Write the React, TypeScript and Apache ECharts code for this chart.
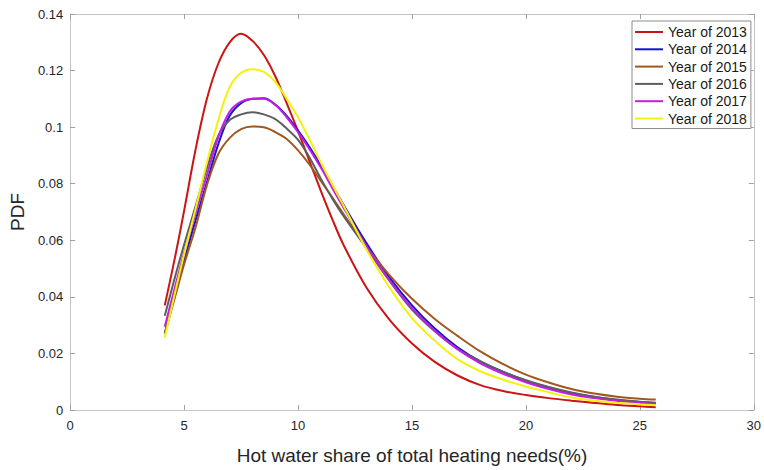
import { useEffect, useRef } from 'react';
import * as echarts from 'echarts';

// hot water share (%) sample points
const shares = [4.15, 4.6, 5, 5.5, 6, 6.5, 7, 7.5, 8, 8.5, 9, 9.5, 10, 10.5, 11, 11.5, 12, 13, 14, 15, 16, 17, 18, 19, 20, 21, 22, 23, 24, 25, 25.7];

const years = ['Year of 2013', 'Year of 2014', 'Year of 2015', 'Year of 2016', 'Year of 2017', 'Year of 2018'];

const pdf2013 = [0.037, 0.054, 0.0705, 0.092, 0.11, 0.1225, 0.13, 0.133, 0.1305, 0.1255, 0.118, 0.1085, 0.0985, 0.088, 0.0775, 0.0675, 0.0583, 0.0433, 0.032, 0.0235, 0.017, 0.0122, 0.0088, 0.0067, 0.0053, 0.0042, 0.0033, 0.0025, 0.0018, 0.0013, 0.001];
const pdf2014 = [0.0271, 0.041, 0.053, 0.067, 0.0805, 0.094, 0.104, 0.1085, 0.11, 0.1102, 0.108, 0.104, 0.0988, 0.093, 0.0865, 0.0795, 0.0725, 0.059, 0.047, 0.037, 0.0288, 0.0222, 0.0172, 0.0135, 0.0104, 0.008, 0.006, 0.0046, 0.0035, 0.0028, 0.0025];
const pdf2015 = [0.027, 0.04, 0.0515, 0.0645, 0.0795, 0.0905, 0.0962, 0.0993, 0.1002, 0.1, 0.0982, 0.0958, 0.0918, 0.0868, 0.081, 0.0752, 0.0692, 0.0578, 0.0478, 0.0393, 0.0322, 0.0262, 0.0207, 0.0162, 0.0125, 0.0097, 0.0074, 0.0058, 0.0047, 0.004, 0.0037];
const pdf2016 = [0.0333, 0.047, 0.0585, 0.072, 0.0855, 0.097, 0.1025, 0.1045, 0.1053, 0.1045, 0.1028, 0.0995, 0.0955, 0.0893, 0.0818, 0.0748, 0.0685, 0.0572, 0.0458, 0.0355, 0.0278, 0.0215, 0.0172, 0.0135, 0.0105, 0.0081, 0.0062, 0.0047, 0.0037, 0.0029, 0.0026];
const pdf2017 = [0.0294, 0.0435, 0.0555, 0.0695, 0.083, 0.0965, 0.1055, 0.109, 0.11, 0.11, 0.1078, 0.1035, 0.0982, 0.0922, 0.0857, 0.0785, 0.0715, 0.058, 0.046, 0.036, 0.028, 0.0215, 0.0165, 0.0128, 0.0098, 0.0074, 0.0055, 0.0042, 0.0032, 0.0025, 0.0022];
const pdf2018 = [0.0256, 0.0415, 0.055, 0.071, 0.0875, 0.1025, 0.1142, 0.1192, 0.1205, 0.1195, 0.116, 0.11, 0.1035, 0.0957, 0.0875, 0.0797, 0.0722, 0.0568, 0.0435, 0.0325, 0.0245, 0.018, 0.0137, 0.0107, 0.0083, 0.0063, 0.0044, 0.0033, 0.0026, 0.002, 0.0017];

const curves = [pdf2013, pdf2014, pdf2015, pdf2016, pdf2017, pdf2018];
const colors = ['#cc1414', '#1414d2', '#a0581e', '#5e5e5e', '#c41ee0', '#f2f20c'];

export default function App() {
  const chartRef = useRef<HTMLDivElement>(null);

  useEffect(() => {
    if (!chartRef.current) return;
    document.body.style.margin = '0';
    const chart = echarts.init(chartRef.current, null, { renderer: 'svg' });

    const font = 'Liberation Sans, Arial, Helvetica, sans-serif';
    const boxColor = '#c4c4c4';
    const tickColor = '#a0a0a0';
    const textColor = '#262626';

    const frameX = {
      type: 'value',
      min: 0,
      max: 30,
      interval: 5,
      axisLine: { show: true, onZero: false, lineStyle: { color: boxColor, width: 1 } },
      axisTick: { show: true, inside: true, length: 5, lineStyle: { color: tickColor } },
      splitLine: { show: false },
    };
    const frameY = {
      type: 'value',
      min: 0,
      max: 0.14,
      interval: 0.02,
      axisLine: { show: true, onZero: false, lineStyle: { color: boxColor, width: 1 } },
      axisTick: { show: true, inside: true, length: 5, lineStyle: { color: tickColor } },
      splitLine: { show: false },
    };

    chart.setOption({
      animation: false,
      backgroundColor: '#fff',
      textStyle: { fontFamily: font },
      grid: { left: 66, right: 9, top: 14, bottom: 51 },
      legend: {
        orient: 'vertical',
        left: 632,
        top: 21,
        data: years,
        icon: 'path://M0 0H28V2H0Z',
        itemWidth: 28,
        itemHeight: 14,
        itemGap: 3.3,
        padding: [4, 4, 3, 3],
        borderColor: '#8c8c8c',
        borderWidth: 1,
        backgroundColor: '#fff',
        textStyle: { fontSize: 14, color: '#1a1a1a', fontFamily: font },
      },
      xAxis: [
        {
          ...frameX,
          position: 'bottom',
          axisLabel: { color: textColor, fontSize: 13, margin: 9, fontFamily: font },
          name: 'Hot water share of total heating needs(%)',
          nameLocation: 'middle',
          nameGap: 36,
          nameTextStyle: { color: textColor, fontSize: 19, fontFamily: font },
        },
        { ...frameX, position: 'top', axisLabel: { show: false } },
      ],
      yAxis: [
        {
          ...frameY,
          position: 'left',
          axisLabel: {
            color: textColor,
            fontSize: 13,
            margin: 7,
            fontFamily: font,
            formatter: (v: number) => (v === 0 ? '0' : String(+v.toFixed(2))),
          },
          name: 'PDF',
          nameLocation: 'middle',
          nameGap: 41,
          nameTextStyle: { color: textColor, fontSize: 19, fontFamily: font },
        },
        { ...frameY, position: 'right', axisLabel: { show: false } },
      ],
      series: curves.map((vals, i) => ({
        name: years[i],
        type: 'line',
        xAxisIndex: 0,
        yAxisIndex: 0,
        data: shares.map((x, j) => [x, vals[j]]),
        smooth: 0.35,
        symbol: 'none',
        showSymbol: false,
        lineStyle: { width: 2, color: colors[i] },
        itemStyle: { color: colors[i] },
      })),
    });

    return () => {
      chart.dispose();
    };
  }, []);

  return <div ref={chartRef} style={{ width: 764, height: 470 }} />;
}
